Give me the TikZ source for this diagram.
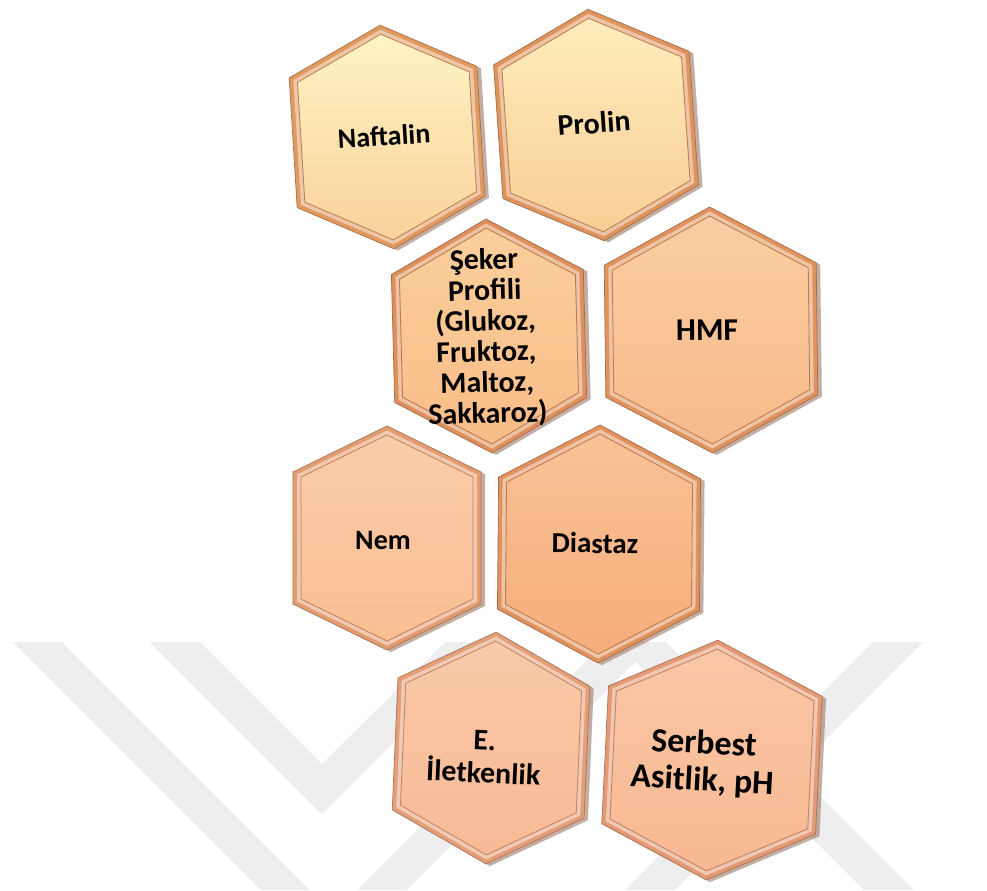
\documentclass[tikz,border=0pt]{standalone}
\usepackage{fontspec}
\setmainfont{Carlito}

\definecolor{naftTop}{HTML}{FFF4C4}
\definecolor{naftBot}{HTML}{FAD29C}
\definecolor{naftFrame}{HTML}{E09A60}
\definecolor{prolTop}{HTML}{FEEEBC}
\definecolor{prolBot}{HTML}{F9CD96}
\definecolor{prolFrame}{HTML}{DF945E}
\definecolor{sekerTop}{HTML}{FBCF9C}
\definecolor{sekerBot}{HTML}{F8BC88}
\definecolor{sekerFrame}{HTML}{DE905C}
\definecolor{hmfTop}{HTML}{FBCDA2}
\definecolor{hmfBot}{HTML}{F8BA8A}
\definecolor{hmfFrame}{HTML}{E0935F}
\definecolor{nemTop}{HTML}{FBCCA8}
\definecolor{nemBot}{HTML}{F9BE94}
\definecolor{nemFrame}{HTML}{E39C70}
\definecolor{diasTop}{HTML}{F9C397}
\definecolor{diasBot}{HTML}{F6AC7A}
\definecolor{diasFrame}{HTML}{E0925E}
\definecolor{iletTop}{HTML}{FAC9A8}
\definecolor{iletBot}{HTML}{F7BA96}
\definecolor{iletFrame}{HTML}{E49E78}
\definecolor{serbTop}{HTML}{FAC7A6}
\definecolor{serbBot}{HTML}{F7B892}
\definecolor{serbFrame}{HTML}{E39A74}
\definecolor{markgray}{HTML}{EEEEEE}
\definecolor{hexshadow}{HTML}{9C7868}

\newcommand{\hexpath}[1]{(0,-\hh+1.12*#1) -- (\hw-#1,-\hs+0.62*#1) -- (\hw-#1,\hs-0.62*#1)
  -- (0,\hh-1.12*#1) -- (-\hw+#1,\hs-0.62*#1) -- (-\hw+#1,-\hs+0.62*#1) -- cycle}

\begin{document}
\begin{tikzpicture}
        [
            x=0.02cm, y=-0.02cm,
            cell/.style args={#1/#2}{align=center, inner sep=0pt, text=black,
                         font=\fontsize{#1}{#2}\selectfont\bfseries}
        ]
        \useasboundingbox (0,0) rectangle (987,890);
        \fill [markgray] (13,642) -- (62,642) -- (310,890) -- (261,890) -- cycle;
        \fill [markgray] (150,642) -- (200,642) -- (322,764) -- (445,642)
                         -- (495,642) -- (322,814) -- cycle;
        \fill [markgray] (357,890) -- (407,890) -- (655,642) -- (605,642) -- cycle;
        \fill [markgray] (873,642) -- (923,642) -- (675,890) -- (625,890) -- cycle;
        \fill [markgray] (616,642) -- (666,642) -- (914,890) -- (864,890) -- cycle;
        \foreach \col/\cx/\cy/\ang/\hw/\hh/\hs in {naft/387/137/3.5/94/112/65,
                prol/596/125/4/98/116/67, seker/489/336/1.5/96/117/64,
                hmf/711/330/0.7/106/123/66, nem/387/538/0/94/112/66,
                dias/599/544/-0.5/101/119/66, ilet/491/748/-2.5/96/116/66,
                serb/712/760/-2.8/107/120/69}
        {
            \begin{scope}[shift={(\cx,\cy)}, rotate=\ang]
                \fill [hexshadow, opacity=.6, shift={(4,2)}] \hexpath{0};
                \filldraw [fill=\col Frame, draw=\col Frame!75!black, line width=.4pt] \hexpath{0};
                \fill [fill=\col Frame!55!white] \hexpath{4};
                \shade [top color=\col Top, bottom color=\col Bot] \hexpath{8};
                \draw [draw=\col Frame!85!black, line width=.5pt] \hexpath{8};
            \end{scope}
        }
        \node (naftalin) [cell=16/17, rotate=3.5] at (384,136) {Naftalin};
        \node (prolin) [cell=17/18, rotate=4] at (594,123) {Prolin};
        \node (seker) [cell=17/17.5, rotate=1.5] at (486,338)
              {Şeker\\Profili\\(Glukoz,\\Fruktoz,\\Maltoz,\\Sakkaroz)};
        \node (hmf) [cell=18/19, rotate=0.7] at (707,330) {HMF};
        \node (nem) [cell=16/17] at (383,540) {Nem};
        \node (diastaz) [cell=16.5/17, rotate=-0.5] at (595,543) {Diastaz};
        \node (iletkenlik) [cell=17/18.5, rotate=-2.5] at (484,757) {E.\\İletkenlik};
        \node (serbest) [cell=19.3/21, rotate=-3] at (703,763) {Serbest\\Asitlik, pH};
    \end{tikzpicture}
\end{document}
